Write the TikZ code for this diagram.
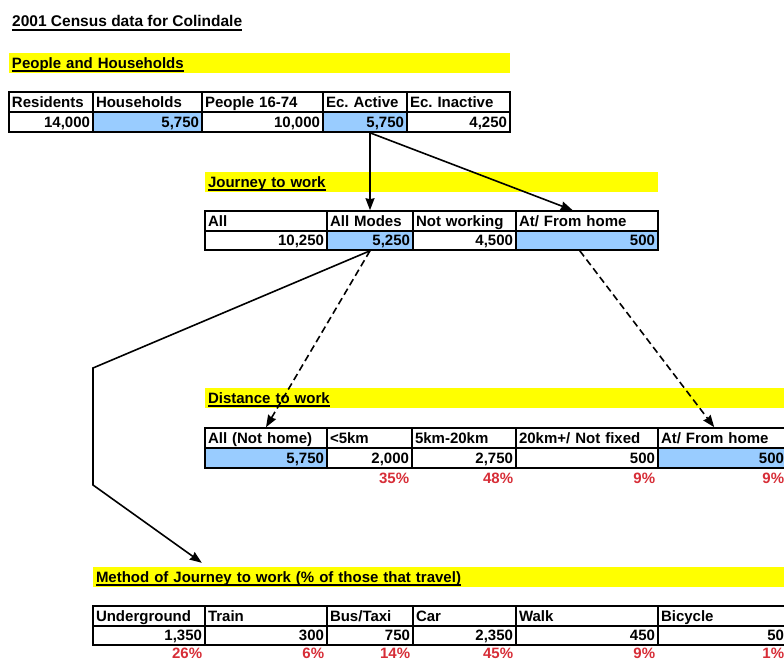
\documentclass[tikz,border=0pt]{standalone}
\usepackage{fontspec}
\setmainfont{Liberation Sans}
\usetikzlibrary{arrows.meta,calc}
\definecolor{cellblue}{HTML}{99CCFF}
\definecolor{pctred}{RGB}{215,45,55}
\definecolor{baryellow}{HTML}{FFFF00}
\frenchspacing
\newcommand\ulbar[1]{{\setbox0\hbox{#1}\rlap{\rule[-3.6pt]{\wd0}{1.5pt}}\box0}}
\newcommand\tcell[8]{%
  \pgfmathsetmacro\myCx{(#2+#3)/2}%
  \pgfmathsetmacro\myCy{(#4+#5)/2}%
  \pgfmathsetmacro\myTw{#3-#2-6}%
  \pgfmathsetmacro\myMh{#5-#4}%
  \node[#7, text width=\myTw pt, minimum height=\myMh pt, align=#6] (#1) at (\myCx,\myCy) {#8};}
\begin{document}
\begin{tikzpicture}[x=1pt,y=-1pt,
  every node/.style={font=\fontsize{15}{18}\selectfont\bfseries},
  cellbox/.style={draw=black, line width=1.6pt, inner xsep=3pt, inner ysep=0pt, text height=11.5pt, text depth=1.5pt},
  wcell/.style={cellbox, fill=white},
  bcell/.style={cellbox, fill=cellblue},
  barbox/.style={fill=baryellow, inner xsep=3pt, inner ysep=0pt, text height=11.5pt, text depth=1.5pt},
  pct/.style={text=pctred, anchor=base east, inner sep=0pt},
  conn/.style={line width=1.6pt, -{Stealth[length=12pt,width=9pt,inset=1pt]}},
  dconn/.style={conn, dash pattern=on 7pt off 4pt}]
\useasboundingbox (0,0) rectangle (784,661);
\clip (0,0) rectangle (784,661);
\fill[white] (0,0) rectangle (784,661);

% title
\node[anchor=base west, inner sep=0pt, font=\fontsize{15.5}{18}\selectfont\bfseries] (title) at (12,27) {\ulbar{2001 Census data for Colindale}};

% People and Households
\tcell{bar1}{9}{510}{53}{73}{left}{barbox}{\ulbar{People and Households}}
\tcell{t1h1}{9}{93}{92}{112}{left}{wcell}{Residents}
\tcell{t1h2}{93}{202}{92}{112}{left}{wcell}{Households}
\tcell{t1h3}{202}{323}{92}{112}{left}{wcell}{People 16-74}
\tcell{t1h4}{323}{407}{92}{112}{left}{wcell}{Ec. Active}
\tcell{t1h5}{407}{510}{92}{112}{left}{wcell}{Ec. Inactive}
\tcell{t1v1}{9}{93}{112}{132}{right}{wcell}{14,000}
\tcell{t1v2}{93}{202}{112}{132}{right}{bcell}{5,750}
\tcell{t1v3}{202}{323}{112}{132}{right}{wcell}{10,000}
\tcell{t1v4}{323}{407}{112}{132}{right}{bcell}{5,750}
\tcell{t1v5}{407}{510}{112}{132}{right}{wcell}{4,250}

% Journey to work
\tcell{bar2}{205}{658}{172}{192}{left}{barbox}{\ulbar{Journey to work}}
\tcell{t2h1}{205}{327}{211}{231}{left}{wcell}{All}
\tcell{t2h2}{327}{413}{211}{231}{left}{wcell}{All Modes}
\tcell{t2h3}{413}{516}{211}{231}{left}{wcell}{Not working}
\tcell{t2h4}{516}{658}{211}{231}{left}{wcell}{At/ From home}
\tcell{t2v1}{205}{327}{231}{250}{right}{wcell}{10,250}
\tcell{t2v2}{327}{413}{231}{250}{right}{bcell}{5,250}
\tcell{t2v3}{413}{516}{231}{250}{right}{wcell}{4,500}
\tcell{t2v4}{516}{658}{231}{250}{right}{bcell}{500}

% Distance to work
\tcell{bar3}{205}{790}{388}{408}{left}{barbox}{\ulbar{Distance to work}}
\tcell{t3h1}{205}{327}{428}{448}{left}{wcell}{All (Not home)}
\tcell{t3h2}{327}{412}{428}{448}{left}{wcell}{<5km}
\tcell{t3h3}{412}{516}{428}{448}{left}{wcell}{5km-20km}
\tcell{t3h4}{516}{658}{428}{448}{left}{wcell}{20km+/ Not fixed}
\tcell{t3h5}{658}{787}{428}{448}{left}{wcell}{At/ From home}
\tcell{t3v1}{205}{327}{448}{468}{right}{bcell}{5,750}
\tcell{t3v2}{327}{412}{448}{468}{right}{wcell}{2,000}
\tcell{t3v3}{412}{516}{448}{468}{right}{wcell}{2,750}
\tcell{t3v4}{516}{658}{448}{468}{right}{wcell}{500}
\tcell{t3v5}{658}{787}{448}{468}{right}{bcell}{500}
\node[pct] (p32) at ($(t3v2.south east)+(-3.5,15)$) {35\%};
\node[pct] (p33) at ($(t3v3.south east)+(-3.5,15)$) {48\%};
\node[pct] (p34) at ($(t3v4.south east)+(-3.5,15)$) {9\%};
\node[pct] (p35) at ($(t3v5.south east)+(-3.5,15)$) {9\%};

% Method of Journey to work
\tcell{bar4}{93}{790}{567}{587}{left}{barbox}{\ulbar{Method of Journey to work (\% of those that travel)}}
\tcell{t4h1}{93}{205}{606}{626}{left}{wcell}{Underground}
\tcell{t4h2}{205}{327}{606}{626}{left}{wcell}{Train}
\tcell{t4h3}{327}{413}{606}{626}{left}{wcell}{Bus/Taxi}
\tcell{t4h4}{413}{516}{606}{626}{left}{wcell}{Car}
\tcell{t4h5}{516}{658}{606}{626}{left}{wcell}{Walk}
\tcell{t4h6}{658}{787}{606}{626}{left}{wcell}{Bicycle}
\tcell{t4v1}{93}{205}{626}{645}{right}{wcell}{1,350}
\tcell{t4v2}{205}{327}{626}{645}{right}{wcell}{300}
\tcell{t4v3}{327}{413}{626}{645}{right}{wcell}{750}
\tcell{t4v4}{413}{516}{626}{645}{right}{wcell}{2,350}
\tcell{t4v5}{516}{658}{626}{645}{right}{wcell}{450}
\tcell{t4v6}{658}{787}{626}{645}{right}{wcell}{50}
\node[pct] (p41) at ($(t4v1.south east)+(-3.5,13)$) {26\%};
\node[pct] (p42) at ($(t4v2.south east)+(-3.5,13)$) {6\%};
\node[pct] (p43) at ($(t4v3.south east)+(-3.5,13)$) {14\%};
\node[pct] (p44) at ($(t4v4.south east)+(-3.5,13)$) {45\%};
\node[pct] (p45) at ($(t4v5.south east)+(-3.5,13)$) {9\%};
\node[pct] (p46) at ($(t4v6.south east)+(-3.5,13)$) {1\%};

% connectors
\coordinate (b1) at (93,368);
\coordinate (b2) at (93,485);
\draw[conn] (t1v4.south -| t2h2.north) -- (t2h2.north);
\draw[conn] (t1v4.south -| t2h2.north) -- ($(t2h4.north west)!0.4!(t2h4.north east)$);
\draw[dconn] (t2v2.south) -- ($(t3h1.north west)!0.5!(t3h1.north east)$);
\draw[dconn] ($(t2v4.south west)!0.45!(t2v4.south east)$) -- ($(t3h5.north west)+(57,0)$);
\draw[conn, line join=miter] (t2v2.south) -- (b1) -- (b2) -- ($(bar4.north west)+(109,-4)$);
\end{tikzpicture}
\end{document}
